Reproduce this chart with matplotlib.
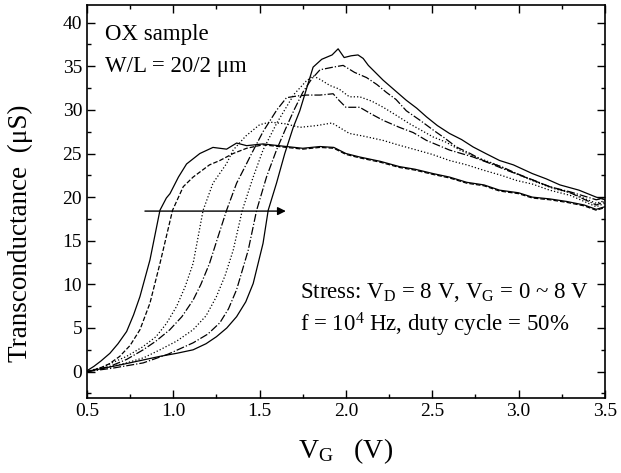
import matplotlib
matplotlib.use("Agg")
import matplotlib.pyplot as plt
from matplotlib.ticker import MultipleLocator

plt.rcParams['font.family'] = ['Liberation Serif', 'DejaVu Serif']
plt.rcParams['mathtext.fontset'] = 'custom'
plt.rcParams['mathtext.rm'] = 'Liberation Serif'
plt.rcParams['mathtext.it'] = 'Liberation Serif:italic'

# gm-VG curves (x in V, y in uS)
xa = [0.5, 0.54, 0.58, 0.633, 0.68, 0.73, 0.77, 0.807, 0.865, 0.923, 0.96, 0.981, 1.03, 1.077,
      1.154, 1.23, 1.309, 1.367, 1.425, 1.52, 1.656, 1.75, 1.85, 1.93, 2.0, 2.08, 2.2, 2.31, 2.4,
      2.505, 2.6, 2.70, 2.8, 2.89, 3.0, 3.08, 3.18, 3.28, 3.38, 3.45, 3.5]
ya = [0.1, 0.6, 1.2, 2.1, 3.2, 4.6, 6.5, 8.6, 12.8, 18.5, 19.9, 20.4, 22.3, 23.8,
      25.0, 25.7, 25.5, 26.2, 25.9, 26.1, 25.8, 25.6, 25.8, 25.7, 25.0, 24.6, 24.1, 23.5, 23.2,
      22.7, 22.3, 21.7, 21.4, 20.8, 20.5, 20.0, 19.8, 19.5, 19.1, 18.6, 18.9]

xb = [0.5, 0.575, 0.63, 0.69, 0.75, 0.807, 0.865, 0.923, 0.996, 1.058, 1.115, 1.21, 1.27, 1.347,
      1.425, 1.52, 1.656, 1.75, 1.85, 1.93, 2.0, 2.08, 2.2, 2.31, 2.4, 2.505, 2.6, 2.70, 2.8,
      2.89, 3.0, 3.08, 3.18, 3.28, 3.38, 3.45, 3.5]
yb = [0.0, 0.4, 0.9, 1.75, 3.0, 4.8, 7.85, 12.4, 18.5, 21.2, 22.3, 23.7, 24.2, 25.0,
      25.6, 26.0, 25.7, 25.5, 25.7, 25.6, 24.9, 24.5, 24.0, 23.4, 23.1, 22.6, 22.2, 21.6, 21.3,
      20.7, 20.4, 19.9, 19.7, 19.4, 19.0, 18.5, 18.8]

xc = [0.5, 0.6, 0.73, 0.82, 0.90, 0.96, 1.02, 1.07, 1.115, 1.173, 1.23, 1.309, 1.347, 1.42, 1.50,
      1.56, 1.65, 1.733, 1.83, 1.92, 2.02, 2.1, 2.216, 2.3, 2.41, 2.5, 2.60, 2.7, 2.795, 2.9,
      2.99, 3.08, 3.18, 3.3, 3.45, 3.5]
yc = [0.0, 0.6, 1.75, 2.8, 4.0, 5.5, 7.5, 9.8, 12.4, 18.5, 21.6, 23.85, 25.4, 27.0, 28.3,
      28.6, 28.4, 28.0, 28.2, 28.5, 27.3, 27.0, 26.5, 26.0, 25.4, 24.9, 24.2, 23.7, 23.1, 22.5,
      21.9, 21.5, 20.8, 20.2, 18.9, 19.3]

xd = [0.5, 0.633, 0.73, 0.826, 0.90, 0.98, 1.05, 1.115, 1.16, 1.21, 1.26, 1.309, 1.367, 1.425,
      1.454, 1.52, 1.60, 1.656, 1.72, 1.772, 1.85, 1.926, 1.96, 2.0, 2.08, 2.15, 2.216, 2.31,
      2.39, 2.467, 2.60, 2.737, 2.83, 2.93, 3.05, 3.18, 3.3, 3.45, 3.5]
yd = [0.0, 0.6, 1.4, 2.5, 3.5, 4.8, 6.3, 8.2, 10.0, 12.4, 15.5, 18.5, 21.6, 23.85,
      25.0, 27.5, 30.0, 31.4, 31.6, 31.7, 31.7, 31.85, 31.1, 30.3, 30.3, 29.5, 28.8, 28.0,
      27.4, 26.5, 25.4, 24.6, 23.9, 23.1, 22.2, 21.2, 20.5, 19.1, 19.5]

xe = [0.5, 0.6, 0.73, 0.83, 0.923, 1.02, 1.115, 1.19, 1.25, 1.30, 1.347, 1.40, 1.463, 1.52, 1.60,
      1.70, 1.77, 1.81, 1.85, 1.907, 1.96, 2.02, 2.08, 2.15, 2.216, 2.29, 2.37, 2.505, 2.58,
      2.66, 2.75, 2.85, 2.95, 3.08, 3.2, 3.3, 3.45, 3.5]
ye = [0.0, 0.4, 1.0, 1.6, 2.5, 3.5, 4.8, 6.4, 8.6, 11.0, 13.9, 18.5, 22.3, 25.4, 28.5,
      31.8, 33.3, 33.9, 33.5, 32.8, 32.4, 31.5, 31.5, 31.0, 30.3, 29.4, 28.4, 26.9, 26.3,
      25.4, 24.6, 23.9, 23.0, 21.9, 21.0, 20.5, 19.3, 19.6]

xf = [0.5, 0.65, 0.826, 0.97, 1.115, 1.2, 1.27, 1.32, 1.367, 1.434, 1.483, 1.54, 1.598, 1.65,
      1.70, 1.75, 1.80, 1.85, 1.926, 1.984, 2.05, 2.12, 2.18, 2.235, 2.29, 2.35, 2.43, 2.505,
      2.57, 2.64, 2.72, 2.795, 2.9, 2.99, 3.08, 3.18, 3.3, 3.45, 3.5]
yf = [0.0, 0.4, 1.0, 2.0, 3.3, 4.3, 5.6, 7.2, 9.4, 13.9, 18.5, 22.3, 25.4, 27.8,
      30.0, 32.0, 33.5, 34.6, 34.9, 35.1, 34.3, 33.7, 32.9, 32.0, 31.2, 29.9, 28.8, 27.7,
      26.8, 25.75, 25.0, 24.2, 23.5, 22.7, 22.0, 21.2, 20.6, 19.7, 19.9]

xg = [0.5, 0.7, 0.923, 1.02, 1.115, 1.19, 1.25, 1.31, 1.367, 1.42, 1.463, 1.52, 1.55, 1.598,
      1.646, 1.695, 1.733, 1.77, 1.81, 1.86, 1.92, 1.955, 1.99, 2.03, 2.07, 2.10, 2.13, 2.216,
      2.28, 2.35, 2.41, 2.467, 2.53, 2.60, 2.67, 2.737, 2.81, 2.89, 2.97, 3.08, 3.16, 3.24,
      3.35, 3.45, 3.5]
yg = [0.0, 0.8, 1.75, 2.1, 2.5, 3.2, 4.0, 5.0, 6.3, 8.0, 10.1, 14.7, 18.5, 21.6,
      25.0, 28.0, 29.9, 32.3, 34.9, 35.8, 36.3, 37.0, 36.0, 36.2, 36.3, 35.9, 35.1, 33.4,
      32.3, 31.1, 30.2, 29.2, 28.2, 27.3, 26.6, 25.75, 25.0, 24.2, 23.7, 22.7, 22.1, 21.4,
      20.8, 20.0, 19.7]

curves = [(xa, ya, '-'), (xb, yb, '--'), (xc, yc, ':'), (xd, yd, '-.'),
          (xe, ye, ':'), (xf, yf, '-.'), (xg, yg, '-')]

fig = plt.figure(figsize=(6.21, 4.73), dpi=100)
ax = fig.add_axes([0.140, 0.159, 0.834, 0.830])

for x, y, ls in curves:
    ax.plot(x, y, color='black', linestyle=ls, linewidth=0.9)

# shift arrow
ax.annotate('', xy=(1.652, 18.4), xytext=(0.836, 18.4),
            arrowprops=dict(arrowstyle='-|>', color='black', lw=1.0,
                            mutation_scale=12, shrinkA=0, shrinkB=0))

ax.text(0.605, 38.6, 'OX sample', fontsize=16.5, va='center')
ax.text(0.605, 35.0, 'W/L = 20/2 μm', fontsize=16.5, va='center')
ax.text(1.735, 9.1, r'Stress: V$_\mathrm{D}$ = 8 V, V$_\mathrm{G}$ = 0 ~ 8 V',
        fontsize=16.5, va='center')
ax.text(1.735, 5.3, r'f = 10$^\mathrm{4}$ Hz, duty cycle = 50%', fontsize=16.5, va='center')

ax.set_xlim(0.5, 3.5)
ax.set_ylim(-3, 42)
ax.xaxis.set_major_locator(MultipleLocator(0.5))
ax.xaxis.set_minor_locator(MultipleLocator(0.25))
ax.yaxis.set_major_locator(MultipleLocator(5))
ax.yaxis.set_minor_locator(MultipleLocator(2.5))
ax.xaxis.set_major_formatter(plt.FuncFormatter(lambda v, p: f'{v:.1f}'))
ax.tick_params(which='both', direction='in', top=True, right=True, labelsize=14)
ax.tick_params(which='major', length=6, width=1)
ax.tick_params(which='minor', length=3, width=1)
for s in ax.spines.values():
    s.set_linewidth(1.2)

ax.set_xlabel(r'V$_\mathrm{G}$   (V)', fontsize=20, labelpad=12)
ax.set_ylabel('Transconductance  (μS)', fontsize=19.5)
ax.yaxis.set_label_coords(-0.105, 0.42)

fig.savefig('out.png', dpi=100)
